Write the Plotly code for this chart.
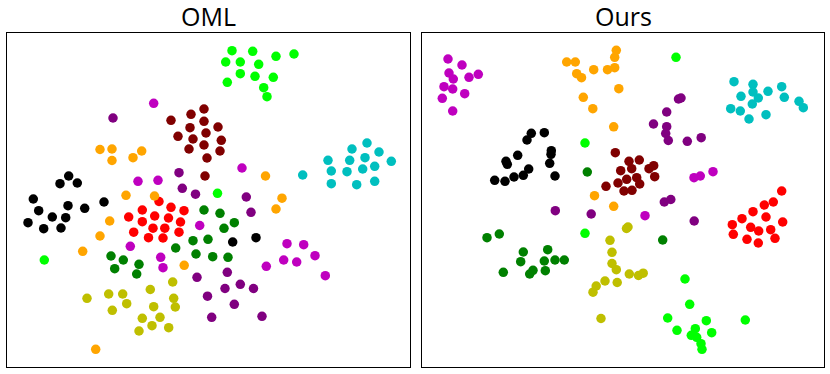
import plotly.graph_objects as go

# ---------------- data (embedding coordinates) ----------------
titles = ["OML", "Ours"]

class_names = ["black", "red", "cyan", "magenta", "olive", "lime", "green", "purple", "maroon", "orange"]
class_colors = ["#000000", "#FF0000", "#00BFBF", "#BF00BF", "#BFBF00", "#00FF00", "#008000", "#800080", "#800000", "#FFA500"]

# Panel 1: OML
oml_black = [(68.7,176),(60,183.7),(77.3,183),(33.3,199),(104,202),(68,205.7),(38.7,210.7),(84.7,208.3),
             (52.3,217),(65.7,217.7),(28,222.7),(43.7,228.7),(61,228),(232.7,242),(256,237.7)]
oml_red = [(159,201.5),(171,207.3),(184,210.7),(142.3,210),(128.7,217),(154.7,216),(168.5,218),(180.5,222),
           (142.3,221.7),(153,228.2),(164.8,228.2),(133.7,232.2),(179,232.2),(148.5,237.7),(163,238)]
oml_cyan = [(367,143),(352,149),(379,152),(328,160.3),(349.7,160.3),(365,157.7),(391.3,161.3),(331.3,171),
            (347,171.7),(362.7,169),(374.7,166.3),(331.3,183.7),(356.7,184.7),(374.7,181.3),(302.7,175)]
oml_magenta = [(153.7,103.3),(242,168),(138,181.3),(158,180.3),(199.7,225.5),(130.3,246.3),(160.7,257.3),
               (163,267.7),(287,243.7),(303.7,244.7),(315,255.7),(283.7,260),(296.7,262),(266.3,266.3),(325.3,275.7)]
oml_olive = [(172.7,282),(150.3,289.5),(108.7,294),(122.7,294),(87,298.3),(173.7,298.3),(126.7,303.7),
             (153.7,306.7),(175.3,307),(112.3,310.3),(142.3,318.3),(160,317.3),(152,325.7),(168.7,327.7),(139,331)]
oml_lime = [(232,50.7),(252.7,51.3),(294,54),(276,56.3),(225.7,62),(240.3,62),(258.7,64.3),(240.3,73.7),
            (255,76.3),(273.3,77.3),(227.3,82.3),(263.7,87.7),(267,96.7),(217.5,193.3),(44.3,260)]
oml_green = [(204,210),(220,213.3),(234.3,222.7),(224,228.3),(193,240.7),(208,239.3),(175.7,248),(196,254),
             (212.7,256.7),(228,257.3),(111,256),(123.3,260),(114.7,268.7),(139,264.3),(136.7,274)]
oml_purple = [(113,118),(179,172.7),(182.3,188.3),(195.5,194.2),(246.3,197),(251,212.3),(197,277.3),
              (227.3,272.3),(225,288.5),(240.3,284.3),(253.5,288.5),(207.5,296.2),(234.3,304.3),(211.7,317.3),(262,316.3)]
oml_maroon = [(204,109),(191,114.3),(171,120.3),(204,121.3),(190,127.7),(206,133),(178,136.3),(193,139),
              (204,145),(189,149),(207,158),(205,176),(218,127),(221.3,140.3),(220,151)]
oml_orange = [(100,149.5),(112,149),(112,160.5),(133,157.7),(141.7,151),(126,195.3),(154.5,196),(265.5,176),
              (282,198.2),(276,209),(109.7,221),(100,236),(82.7,251.3),(184.2,265.3),(95.7,349.3)]

# Panel 2: Ours
ours_black = [(531.3,133.3),(544.3,132.7),(527,140),(517.7,155.3),(551.3,150.7),(551,154.3),(506,161.3),
              (507.3,164.3),(528.7,169),(549.7,163.3),(523.3,175.3),(514,177),(555,176),(494.7,180.3),(505,181.3)]
ours_red = [(773.3,202),(764.3,205),(753,211.7),(766,217),(742,218.7),(782.7,222),(732.3,224.7),(750.7,227.3),
            (758.7,231),(770.7,229.7),(733.3,234.3),(747,239.3),(758.3,243),(775,238.3),(781.7,191)]
ours_cyan = [(734,81.7),(753,84.3),(781.7,86.7),(741,96.3),(753,92),(768,91.3),(758.3,98),(784.3,97.3),
             (799,101.3),(730.7,108.7),(740.3,111),(752.3,104),(766,114.7),(749,119),(803.3,107.7)]
ours_magenta = [(448,59),(462,65),(449,73),(453.3,79),(469,77.3),(478.3,74.3),(444,86.7),(452.7,89),
                (464.7,93.7),(442.3,98.3),(452.7,111),(694,177.7),(700.3,176),(713,171.7),(645,215.7)]
ours_olive = [(626.5,228.5),(628,227),(610,240.3),(612,252.3),(612,263.5),(616.3,269.7),(629.3,274),
              (638.5,275.5),(643.2,273.2),(605,281),(617.2,282.5),(596.2,286),(593,292.2),(601,318.5)]
ours_lime = [(585,143),(676,57.3),(585,233.3),(685,279),(689.7,304.3),(667.7,318),(706.3,320.7),(745.3,320),
             (677,330.3),(695.3,328.7),(711.7,332.7),(691.3,335.3),(696.7,337.3),(701,343.7),(702,349.3)]
ours_green = [(587.3,172),(487,237.7),(499.3,234),(523.3,252),(547.7,249.7),(520.7,261.7),(544.3,261),
              (555,260),(564.3,260),(503.3,272.3),(533,270.3),(529.7,274),(545.3,270.7),(662.7,240)]
ours_purple = [(678.5,99),(681,98),(666.7,112),(653.5,124),(666.7,126.7),(665.7,133.5),(668.3,140.5),
               (687.3,141.3),(701.2,137.7),(664.3,202),(670.8,199.5),(591.2,214),(694.2,221),(555.3,210.7)]
ours_maroon = [(615.3,152.7),(629,161.3),(639.3,160),(620.7,170.7),(631.7,168.7),(649,168.7),(653.7,165.7),
               (654.7,176.7),(606,186.3),(618,183),(626.7,179.3),(636.7,177.7),(639.7,184),(624,191),(632,190.3)]
ours_orange = [(616.3,50.3),(614.7,57.3),(566.7,62),(575.3,62),(593.7,69.7),(607.5,69.7),(614.7,67.7),
               (576.7,73.7),(581.5,77.7),(618.8,88.7),(583.3,97.3),(592.8,108.7),(613.7,126.8),(594.5,195.7),(613.7,206.3)]

oml_classes = [oml_black, oml_red, oml_cyan, oml_magenta, oml_olive, oml_lime, oml_green, oml_purple, oml_maroon, oml_orange]
ours_classes = [ours_black, ours_red, ours_cyan, ours_magenta, ours_olive, ours_lime, ours_green, ours_purple, ours_maroon, ours_orange]

# ---------------- figure ----------------
W, H = 830, 374
fig = go.Figure()

panels = [
    dict(classes=oml_classes, xaxis="x", yaxis="y", xr=[7, 410]),
    dict(classes=ours_classes, xaxis="x2", yaxis="y2", xr=[422, 824]),
]
yr = [367, 33]

for p in panels:
    for name, col, pts in zip(class_names, class_colors, p["classes"]):
        fig.add_trace(go.Scatter(
            x=[a for a, b in pts], y=[b for a, b in pts],
            mode="markers", name=name, showlegend=False,
            marker=dict(color=col, size=9.5, line=dict(width=0)),
            xaxis=p["xaxis"], yaxis=p["yaxis"], hoverinfo="skip",
        ))

axis_common = dict(showgrid=False, zeroline=False, showticklabels=False, ticks="",
                   showline=True, linecolor="#000000", linewidth=1, mirror=True)

fig.update_layout(
    width=W, height=H,
    margin=dict(l=0, r=0, t=0, b=0),
    paper_bgcolor="white", plot_bgcolor="white",
    xaxis=dict(domain=[7 / W, 410 / W], range=panels[0]["xr"], **axis_common),
    yaxis=dict(domain=[(H - 367) / H, (H - 33) / H], range=yr, **axis_common),
    xaxis2=dict(domain=[422 / W, 824 / W], range=panels[1]["xr"], anchor="y2", **axis_common),
    yaxis2=dict(domain=[(H - 367) / H, (H - 33) / H], range=yr, anchor="x2", **axis_common),
    annotations=[
        dict(text=titles[0], x=(7 + 410) / 2 / W, y=(H - 16) / H, xref="paper", yref="paper",
             showarrow=False, font=dict(family="Open Sans", size=25, color="#000000"),
             xanchor="center", yanchor="middle"),
        dict(text=titles[1], x=(422 + 824) / 2 / W, y=(H - 16) / H, xref="paper", yref="paper",
             showarrow=False, font=dict(family="Open Sans", size=25, color="#000000"),
             xanchor="center", yanchor="middle"),
    ],
)

fig.write_html(
    "out.html",
    config={"displayModeBar": False},
    post_script="document.body.style.margin='0';document.body.style.padding='0';document.body.style.overflow='hidden';",
)
